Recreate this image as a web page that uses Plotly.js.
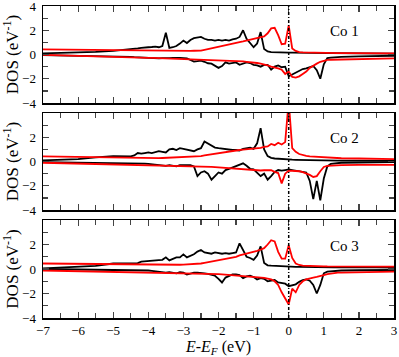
<!DOCTYPE html>
<html>
<head>
<meta charset="utf-8">
<script src="https://cdn.plot.ly/plotly-3.0.1.min.js"></script>
<style>
  html, body { margin: 0; padding: 0; background: #ffffff; }
  #plot { width: 399px; height: 357px; }
</style>
</head>
<body>
<div id="plot"></div>
<script>
"use strict";

// Energy grid (eV, relative to E_F) shared by every curve.
const energy = [-7, -6.5, -6, -5.5, -5, -4.5,
  -4.4, -4.3, -4.2, -4.1, -4.0, -3.9, -3.8, -3.7, -3.6, -3.5,
  -3.4, -3.3, -3.2, -3.1, -3.0, -2.9, -2.8, -2.7, -2.6, -2.5,
  -2.4, -2.3, -2.2, -2.1, -2.0, -1.9, -1.8, -1.7, -1.6, -1.5,
  -1.4, -1.3, -1.2, -1.1, -1.0, -0.9, -0.8, -0.7, -0.6, -0.5,
  -0.4, -0.3, -0.2, -0.1, 0.0, 0.1, 0.2, 0.3, 0.4, 0.5,
  0.6, 0.7, 0.8, 0.9, 1.0, 1.1, 1.2, 1.3, 1.4, 1.5,
  2.0, 2.5, 3.0];

const fermiLevel = 0;
const siteLabels = ["Co 1", "Co 2", "Co 3"];

// ── Co 1 ──
const co1BlackUp = [0.1, 0.13, 0.17, 0.22, 0.3, 0.4,
  0.45, 0.5, 0.55, 0.6, 0.6, 0.62, 0.65, 0.6, 0.7, 1.8,
  0.55, 0.6, 0.7, 0.9, 1.15, 0.95, 1.2, 1.35, 1.4, 1.45,
  1.3, 1.2, 1.2, 1.15, 1.2, 1.15, 1.2, 1.15, 1.25, 1.3,
  1.45, 2.0, 1.3, 0.9, 0.6, 0.9, 1.85, 0.45, 0.25, 0.2,
  0.18, 0.17, 0.16, 0.15, 0.15, 0.15, 0.14, 0.14, 0.13, 0.13,
  0.13, 0.12, 0.12, 0.12, 0.12, 0.11, 0.11, 0.11, 0.1, 0.1,
  0.1, 0.08, 0.08];
const co1BlackDown = [-0.05, -0.07, -0.1, -0.12, -0.15, -0.2,
  -0.22, -0.24, -0.25, -0.27, -0.28, -0.3, -0.3, -0.31, -0.3, -0.32,
  -0.3, -0.28, -0.26, -0.28, -0.3, -0.32, -0.45, -0.58, -0.55, -0.5,
  -0.6, -0.72, -0.75, -0.9, -1.1, -0.95, -0.65, -0.75, -0.7, -0.65,
  -0.85, -0.75, -0.65, -0.7, -0.85, -0.9, -1.0, -0.85, -0.85, -1.25,
  -1.0, -0.9, -1.05, -1.0, -1.8, -1.65, -1.5, -1.3, -1.2, -1.15,
  -1.05, -0.95, -1.3, -2.0, -0.8, -0.3, -0.25, -0.22, -0.2, -0.2,
  -0.15, -0.12, -0.1];
const co1RedUp = [0.42, 0.4, 0.38, 0.36, 0.34, 0.32,
  0.31, 0.31, 0.3, 0.3, 0.3, 0.29, 0.29, 0.29, 0.28, 0.28,
  0.28, 0.28, 0.28, 0.28, 0.29, 0.29, 0.3, 0.31, 0.31, 0.32,
  0.38, 0.45, 0.52, 0.58, 0.64, 0.7, 0.75, 0.82, 0.9, 0.95,
  1.02, 1.08, 1.15, 1.22, 1.3, 1.38, 1.45, 1.5, 1.75, 2.15,
  2.2, 1.6, 0.85, 0.9, 2.4, 0.5, 0.3, 0.2, 0.17, 0.16,
  0.15, 0.15, 0.14, 0.14, 0.13, 0.13, 0.13, 0.13, 0.12, 0.12,
  0.12, 0.11, 0.1];
const co1RedDown = [-0.03, -0.06, -0.1, -0.13, -0.17, -0.22,
  -0.23, -0.24, -0.25, -0.26, -0.27, -0.28, -0.29, -0.3, -0.3, -0.31,
  -0.32, -0.33, -0.34, -0.35, -0.36, -0.37, -0.38, -0.4, -0.42, -0.44,
  -0.45, -0.46, -0.47, -0.48, -0.49, -0.5, -0.5, -0.51, -0.52, -0.53,
  -0.55, -0.57, -0.6, -0.62, -0.65, -0.7, -0.75, -0.8, -0.9, -1.0,
  -1.05, -1.15, -1.25, -1.6, -1.4, -1.85, -1.9, -1.8, -1.6, -1.4,
  -1.1, -0.9, -0.75, -0.6, -0.5, -0.45, -0.43, -0.42, -0.41, -0.4,
  -0.37, -0.34, -0.31];

// ── Co 2 ──
const co2BlackUp = [0.1, 0.15, 0.2, 0.35, 0.45, 0.43,
  0.5, 0.7, 0.65, 0.7, 0.75, 0.7, 0.8, 0.85, 0.8, 0.75,
  1.0, 1.05, 0.95, 1.1, 1.05, 1.0, 0.9, 0.85, 1.0, 1.1,
  1.65, 1.5, 1.35, 1.15, 1.1, 1.05, 1.0, 1.0, 0.95, 0.95,
  0.9, 1.05, 1.1, 1.15, 1.05, 1.5, 2.75, 1.0, 0.45, 0.3,
  0.25, 0.22, 0.2, 0.18, 0.16, 0.15, 0.14, 0.13, 0.12, 0.12,
  0.11, 0.11, 0.1, 0.1, 0.1, 0.09, 0.09, 0.08, 0.08, 0.08,
  0.07, 0.06, 0.05];
const co2BlackDown = [-0.05, -0.07, -0.08, -0.1, -0.1, -0.12,
  -0.12, -0.13, -0.15, -0.18, -0.2, -0.22, -0.25, -0.3, -0.3, -0.35,
  -0.3, -0.35, -0.4, -0.3, -0.3, -0.35, -0.3, -0.4, -1.2, -0.9,
  -0.8, -1.0, -1.5, -1.2, -0.9, -1.0, -0.7, -0.6, -0.5, -0.4,
  -0.25, -0.15, -0.35, -0.6, -0.65, -0.95, -1.2, -1.0, -1.5, -1.2,
  -0.85, -0.7, -0.75, -0.7, -0.65, -0.7, -0.75, -0.8, -0.85, -0.9,
  -1.6, -3.1, -1.6, -3.2, -1.4, -0.4, -0.2, -0.15, -0.12, -0.1,
  -0.08, -0.06, -0.05];
const co2RedUp = [0.43, 0.4, 0.37, 0.34, 0.31, 0.29,
  0.28, 0.28, 0.27, 0.27, 0.27, 0.27, 0.28, 0.28, 0.29, 0.3,
  0.31, 0.32, 0.33, 0.35, 0.37, 0.39, 0.41, 0.42, 0.43, 0.45,
  0.5, 0.55, 0.6, 0.64, 0.68, 0.72, 0.76, 0.8, 0.85, 0.9,
  0.95, 0.98, 1.0, 1.05, 1.08, 1.1, 1.12, 1.2, 1.25, 1.45,
  1.35, 1.55, 1.4, 1.6, 5.0, 1.1, 0.8, 0.62, 0.52, 0.46,
  0.42, 0.4, 0.38, 0.36, 0.34, 0.32, 0.3, 0.29, 0.28, 0.27,
  0.25, 0.22, 0.2];
const co2RedDown = [-0.1, -0.13, -0.17, -0.21, -0.25, -0.28,
  -0.29, -0.3, -0.3, -0.31, -0.31, -0.32, -0.32, -0.33, -0.33, -0.34,
  -0.34, -0.35, -0.35, -0.36, -0.36, -0.37, -0.37, -0.38, -0.38, -0.39,
  -0.4, -0.42, -0.44, -0.46, -0.48, -0.5, -0.52, -0.54, -0.56, -0.58,
  -0.6, -0.62, -0.65, -0.68, -0.72, -0.75, -0.74, -0.72, -0.7, -0.72,
  -0.85, -0.95, -1.8, -1.0, -0.75, -0.75, -0.78, -0.8, -0.88, -0.98,
  -1.1, -1.27, -1.2, -0.8, -0.45, -0.35, -0.32, -0.3, -0.3, -0.29,
  -0.28, -0.28, -0.28];

// ── Co 3 ──
const co3BlackUp = [0.05, 0.1, 0.15, 0.25, 0.45, 0.45,
  0.45, 0.48, 0.6, 0.62, 0.6, 0.65, 0.7, 0.72, 0.75, 0.95,
  0.7, 0.8, 0.95, 0.95, 1.2, 0.95, 1.1, 1.2, 1.42, 1.55,
  1.35, 1.3, 1.25, 1.35, 1.3, 1.25, 1.3, 1.25, 1.3, 1.35,
  2.1, 1.6, 1.0, 0.9, 0.75, 1.1, 1.85, 0.5, 0.3, 0.27,
  0.25, 0.23, 0.22, 0.2, 0.2, 0.19, 0.18, 0.18, 0.17, 0.17,
  0.16, 0.16, 0.15, 0.15, 0.15, 0.14, 0.14, 0.14, 0.14, 0.13,
  0.13, 0.13, 0.12];
const co3BlackDown = [0.0, -0.02, -0.03, -0.04, -0.05, -0.06,
  -0.07, -0.08, -0.1, -0.1, -0.12, -0.15, -0.18, -0.2, -0.22, -0.3,
  -0.25, -0.3, -0.35, -0.25, -0.3, -0.45, -0.35, -0.3, -0.3, -0.3,
  -0.35, -0.4, -0.45, -0.55, -0.8, -1.1, -0.7, -0.6, -0.45, -0.45,
  -0.5, -0.75, -0.6, -0.55, -0.65, -0.85, -0.75, -0.8, -1.0, -0.95,
  -0.9, -1.1, -1.15, -1.2, -1.4, -1.3, -1.25, -1.05, -0.9, -0.85,
  -0.95, -1.3, -2.0, -1.3, -0.35, -0.22, -0.18, -0.15, -0.13, -0.12,
  -0.1, -0.09, -0.08];
const co3RedUp = [0.45, 0.43, 0.41, 0.4, 0.38, 0.37,
  0.36, 0.36, 0.35, 0.35, 0.35, 0.34, 0.34, 0.34, 0.33, 0.33,
  0.33, 0.34, 0.34, 0.35, 0.36, 0.37, 0.38, 0.4, 0.42, 0.45,
  0.5, 0.55, 0.6, 0.65, 0.7, 0.75, 0.82, 0.88, 0.95, 1.0,
  1.12, 1.18, 1.25, 1.32, 1.4, 1.48, 1.58, 1.7, 2.0, 2.35,
  2.25, 1.4, 0.85, 0.85, 1.95, 0.9, 0.45, 0.33, 0.28, 0.26,
  0.25, 0.24, 0.23, 0.22, 0.22, 0.21, 0.21, 0.2, 0.2, 0.2,
  0.2, 0.19, 0.19];
const co3RedDown = [-0.12, -0.15, -0.18, -0.2, -0.22, -0.24,
  -0.24, -0.25, -0.25, -0.26, -0.26, -0.27, -0.27, -0.28, -0.28, -0.29,
  -0.29, -0.3, -0.3, -0.31, -0.31, -0.32, -0.32, -0.33, -0.33, -0.34,
  -0.35, -0.36, -0.38, -0.4, -0.42, -0.44, -0.46, -0.48, -0.5, -0.52,
  -0.54, -0.56, -0.58, -0.6, -0.62, -0.65, -0.68, -0.72, -0.78, -0.85,
  -1.0, -1.3, -1.9, -2.4, -2.9, -1.6, -1.9, -1.3, -1.0, -0.85,
  -0.75, -0.7, -0.65, -0.55, -0.5, -0.42, -0.36, -0.32, -0.3, -0.29,
  -0.26, -0.24, -0.22];

const panels = [
  { up: [co1BlackUp, co1RedUp], down: [co1BlackDown, co1RedDown] },
  { up: [co2BlackUp, co2RedUp], down: [co2BlackDown, co2RedDown] },
  { up: [co3BlackUp, co3RedUp], down: [co3BlackDown, co3RedDown] },
];

const serif = "'Liberation Serif', 'Times New Roman', serif";
// y domains, top panel first
const domains = [[0.689, 1.0], [0.346, 0.657], [0.0, 0.314]];

const traces = [];
const shapes = [];
const annotations = [];
const layout = {
  width: 399, height: 357,
  margin: { l: 43, r: 5, t: 6, b: 39 },
  paper_bgcolor: "#ffffff", plot_bgcolor: "#ffffff",
  showlegend: false,
  font: { family: serif, size: 13, color: "#000000" },
};

panels.forEach((p, i) => {
  const n = i === 0 ? "" : String(i + 1);
  const xa = "x" + n, ya = "y" + n;
  // black first so the red curves sit on top
  [[p.up[0], p.down[0], "#000000"], [p.up[1], p.down[1], "#ff0000"]].forEach(([u, d, c]) => {
    [u, d].forEach(vals => traces.push({
      type: "scatter", mode: "lines", x: energy, y: vals,
      xaxis: xa, yaxis: ya,
      line: { color: c, width: 1.8 },
      hoverinfo: "skip",
    }));
  });

  shapes.push({
    type: "line", xref: xa, yref: ya + " domain",
    x0: fermiLevel, x1: fermiLevel, y0: 0, y1: 1,
    line: { color: "#000000", width: 1.5, dash: "3px,2px,1px,2px" },
  });

  annotations.push({
    xref: xa, yref: ya, x: 1.6, y: 1.9,
    text: siteLabels[i], showarrow: false,
    font: { family: serif, size: 15, color: "#000000" },
  });

  const last = i === panels.length - 1;
  layout["xaxis" + n] = {
    anchor: ya, domain: [0, 1],
    range: [-7, 3], dtick: 1, tick0: -7,
    ticks: "inside", ticklen: 6, tickwidth: 1.2,
    minor: { dtick: 0.5, ticks: "inside", ticklen: 5, tickwidth: 1.2 },
    showline: true, linewidth: 1.5, linecolor: "#000000", mirror: "ticks",
    showgrid: false, zeroline: false,
    showticklabels: last,
    ticklabeloverflow: "allow",
    tickfont: { family: serif, size: 13 },
    title: last ? {
      text: "<i>E</i>-<i>E</i><sub><i>F</i></sub> (eV)",
      font: { family: serif, size: 16 }, standoff: 3,
    } : { text: "" },
  };
  layout["yaxis" + n] = {
    anchor: xa, domain: domains[i],
    range: [-4, 4],
    tickmode: "array",
    tickvals: i === 0 ? [-4, -2, 0, 2, 4] : [-4, -2, 0, 2],
    ticks: "inside", ticklen: 6, tickwidth: 1.2,
    minor: { tickmode: "array", tickvals: [-3, -1, 1, 3], ticks: "inside", ticklen: 5, tickwidth: 1.2 },
    showline: true, linewidth: 1.5, linecolor: "#000000", mirror: "ticks",
    showgrid: false, zeroline: false,
    ticklabeloverflow: "allow",
    tickfont: { family: serif, size: 13 },
    ticklabelstandoff: 3,
    title: { text: "DOS (eV<sup>-1</sup>)", font: { family: serif, size: 17 }, standoff: 3 },
  };
});

layout.shapes = shapes;
layout.annotations = annotations;

Plotly.newPlot("plot", traces, layout, { displayModeBar: false, staticPlot: true });
</script>
</body>
</html>
